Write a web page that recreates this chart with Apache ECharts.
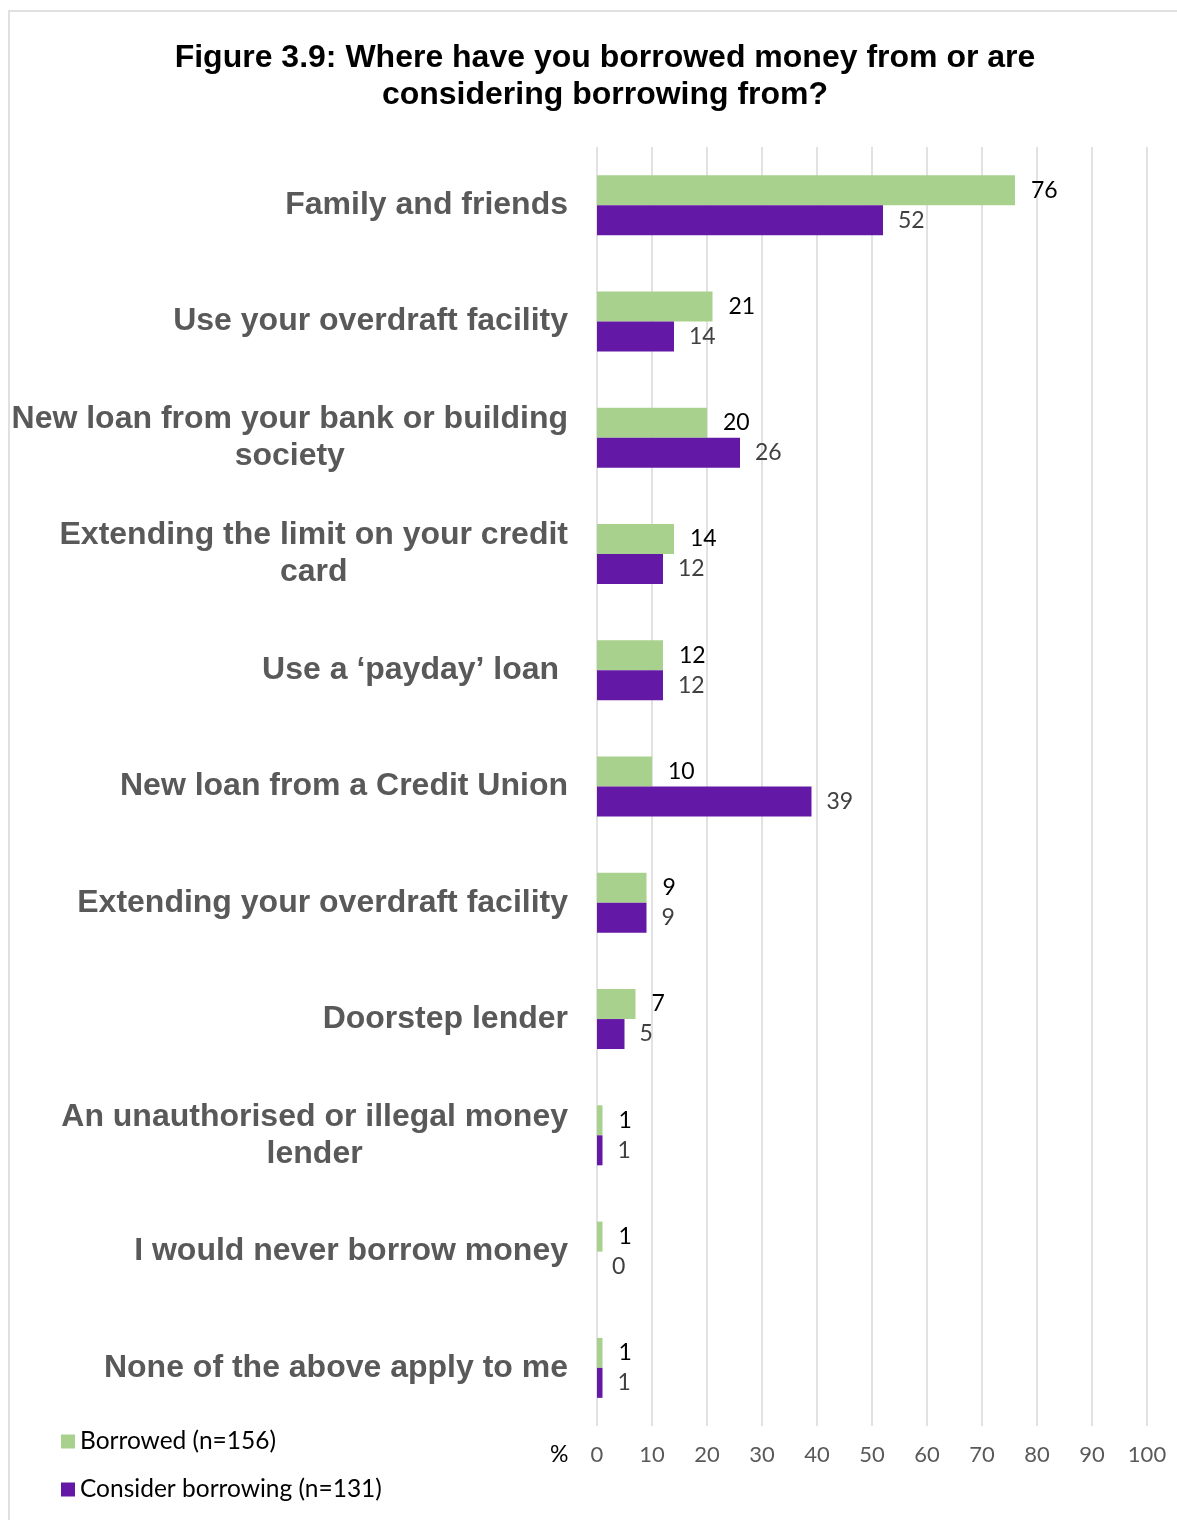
<!DOCTYPE html>
<html>
<head>
<meta charset="utf-8">
<script src="https://cdn.jsdelivr.net/npm/echarts@6/dist/echarts.min.js"></script>
<style>
html,body{margin:0;padding:0;background:#fff;}
#chart{width:1177px;height:1520px;}
</style>
</head>
<body>
<div id="chart"></div>
<script>
const categories = [
  'Family and friends',
  'Use your overdraft facility',
  'New loan from your bank or building\nsociety',
  'Extending the limit on your credit\ncard',
  'Use a \u2018payday\u2019 loan ',
  'New loan from a Credit Union',
  'Extending your overdraft facility',
  'Doorstep lender',
  'An unauthorised or illegal money\nlender',
  'I would never borrow money',
  'None of the above apply to me'
];
const borrowed = [76, 21, 20, 14, 12, 10, 9, 7, 1, 1, 1];
const consider = [52, 14, 26, 12, 12, 39, 9, 5, 1, 0, 1];
const seriesNames = ['Borrowed (n=156)', 'Consider borrowing (n=131)'];
const xTicks = {min: 0, max: 100, interval: 10};

const chart = echarts.init(document.getElementById('chart'), null, {renderer: 'canvas'});
const labelFont = 'Lato, "Open Sans", sans-serif';
chart.setOption({
  backgroundColor: '#ffffff',
  animation: false,
  title: {
    text: 'Figure 3.9: Where have you borrowed money from or are\nconsidering borrowing from?',
    left: 600,
    top: 35,
    textAlign: 'center',
    textStyle: {
      fontFamily: '"Liberation Sans", Arial, sans-serif',
      fontWeight: 'bold',
      fontSize: 32,
      lineHeight: 37,
      color: '#000000'
    }
  },
  graphic: [
    {
      type: 'rect',
      shape: {x: 9, y: 11, width: 1200, height: 1540},
      style: {fill: 'none', stroke: '#e0e0e0', lineWidth: 2},
      z: -1
    },
    {
      type: 'text',
      left: 550,
      top: 1443,
      style: {text: '%', fontFamily: labelFont, fontSize: 23, fill: '#000000'}
    }
  ],
  legend: {
    orient: 'vertical',
    left: 56,
    top: 1424,
    itemWidth: 14,
    itemHeight: 14,
    itemGap: 23,
    icon: 'rect',
    textStyle: {fontFamily: labelFont, fontSize: 24.5, color: '#000000'},
    data: seriesNames
  },
  grid: {left: 597, right: 30, top: 147, bottom: 94, containLabel: false},
  xAxis: {
    type: 'value',
    min: xTicks.min,
    max: xTicks.max,
    interval: xTicks.interval,
    axisLine: {show: false},
    axisTick: {show: false},
    splitLine: {show: true, lineStyle: {color: '#d9d9d9', width: 1.5}},
    axisLabel: {
      margin: 18,
      fontFamily: labelFont,
      fontSize: 22,
      color: '#595959'
    }
  },
  yAxis: {
    type: 'category',
    inverse: true,
    data: categories,
    axisLine: {show: false},
    axisTick: {show: false},
    axisLabel: {
      margin: 29,
      align: 'right',
      formatter: function (v) {
        return v.split('\n').map(function (s) { return '{c|' + s + '}'; }).join('\n');
      },
      rich: {
        c: {
          fontFamily: '"Liberation Sans", Arial, sans-serif',
          fontWeight: 'bold',
          fontSize: 32,
          lineHeight: 37,
          color: '#595959',
          align: 'center'
        }
      }
    }
  },
  series: [
    {
      name: seriesNames[0],
      type: 'bar',
      data: borrowed,
      barGap: '0%',
      barCategoryGap: '48.4%',
      itemStyle: {color: '#a9d18e'},
      label: {
        show: true,
        position: 'right',
        distance: 16,
        fontFamily: labelFont,
        fontSize: 23,
        color: '#000000'
      }
    },
    {
      name: seriesNames[1],
      type: 'bar',
      data: consider,
      barGap: '0%',
      barCategoryGap: '48.4%',
      itemStyle: {color: '#6418a6'},
      label: {
        show: true,
        position: 'right',
        distance: 15,
        fontFamily: labelFont,
        fontSize: 23,
        color: '#404040'
      }
    }
  ]
});
</script>
</body>
</html>
